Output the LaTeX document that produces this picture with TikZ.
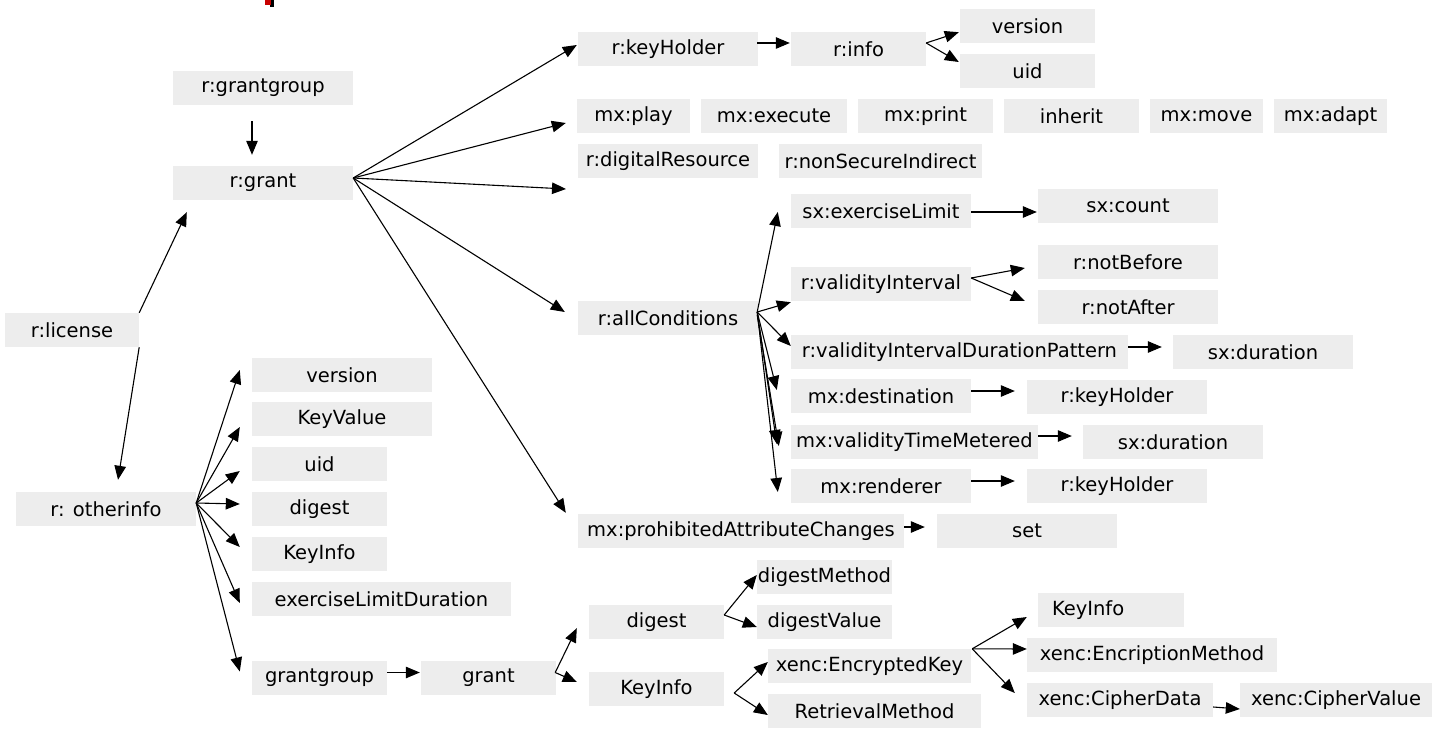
\documentclass[tikz,border=0pt]{standalone}
\usepackage{fontspec}
\setmainfont{DejaVu Sans}
\usetikzlibrary{arrows.meta}
\definecolor{boxgray}{RGB}{237,237,237}
\definecolor{clipred}{RGB}{200,0,0}
\begin{document}
\begin{tikzpicture}[x=1pt,y=-1pt,
  box/.style={fill=boxgray,inner sep=0pt,minimum height=34pt,font=\fontsize{19.5pt}{23pt}\selectfont,text=black},
  arr/.style={-{Triangle[length=14pt,width=11.5pt]},line width=1.1pt,black}]
\useasboundingbox (0,0) rectangle (1438,730);
% small clipped mark at top
\fill[black] (270,0) rectangle (274,7);
\fill[clipred] (265,0) rectangle (271,5);
% nodes
\node[box,minimum width=180pt] (gtop) at (263,88) {r:grantgroup};
\node[box,minimum width=180pt] (rgrant) at (263,183) {r:grant};
\node[box,minimum width=134pt] (license) at (72,330) {r:license};
\node[box,minimum width=180pt] (otherinfo) at (106,509) {r: otherinfo};
\node[box,minimum width=180pt] (keyholder) at (668,49) {r:keyHolder};
\node[box,minimum width=135pt] (info) at (858.5,49) {r:info};
\node[box,minimum width=135pt] (iversion) at (1027.5,26) {version};
\node[box,minimum width=135pt] (iuid) at (1027.5,71) {uid};
\node[box,minimum width=113pt] (play) at (633.5,116) {mx:play};
\node[box,minimum width=146pt] (execute) at (774,116) {mx:execute};
\node[box,minimum width=135pt] (print) at (925.5,116) {mx:print};
\node[box,minimum width=135pt] (inherit) at (1071.5,116) {inherit};
\node[box,minimum width=113pt] (move) at (1206.5,116) {mx:move};
\node[box,minimum width=113pt] (adapt) at (1330.5,116) {mx:adapt};
\node[box,minimum width=180pt] (digres) at (668,161) {r:digitalResource};
\node[box,minimum width=203pt] (nonsec) at (880.5,161) {r:nonSecureIndirect};
\node[box,minimum width=180pt] (allcond) at (668,318) {r:allConditions};
\node[box,minimum width=180pt] (exlimit) at (881,211) {sx:exerciseLimit};
\node[box,minimum width=180pt] (count) at (1128,206) {sx:count};
\node[box,minimum width=180pt] (valint) at (881,284) {r:validityInterval};
\node[box,minimum width=180pt] (notbefore) at (1128,262) {r:notBefore};
\node[box,minimum width=180pt] (notafter) at (1128,307) {r:notAfter};
\node[box,minimum width=337pt] (vidp) at (959.5,352) {r:validityIntervalDurationPattern};
\node[box,minimum width=180pt] (dur1) at (1263,352) {sx:duration};
\node[box,minimum width=180pt] (dest) at (881,396) {mx:destination};
\node[box,minimum width=180pt] (kh1) at (1117,397) {r:keyHolder};
\node[box,minimum width=247pt] (vtm) at (914.5,442) {mx:validityTimeMetered};
\node[box,minimum width=180pt] (dur2) at (1173,442) {sx:duration};
\node[box,minimum width=180pt] (rend) at (881,486) {mx:renderer};
\node[box,minimum width=180pt] (kh2) at (1117,486) {r:keyHolder};
\node[box,minimum width=326pt] (pac) at (741,531) {mx:prohibitedAttributeChanges};
\node[box,minimum width=180pt] (set) at (1027,531) {set};
\node[box,minimum width=180pt] (oversion) at (342,375) {version};
\node[box,minimum width=180pt] (okeyvalue) at (342,419) {KeyValue};
\node[box,minimum width=135pt] (ouid) at (319.5,464) {uid};
\node[box,minimum width=135pt] (odigest) at (319.5,509) {digest};
\node[box,minimum width=135pt] (okeyinfo) at (319.5,554) {KeyInfo};
\node[box,minimum width=259pt] (oeld) at (381.5,599) {exerciseLimitDuration};
\node[box,minimum width=135pt] (ogg) at (319.5,677.5) {grantgroup};
\node[box,minimum width=135pt] (ogrant) at (488.5,677.5) {grant};
\node[box,minimum width=135pt] (gdigest) at (656.5,622) {digest};
\node[box,minimum width=135pt] (gkeyinfo) at (656.5,689) {KeyInfo};
\node[box,minimum width=135pt] (dmethod) at (824.5,577) {digestMethod};
\node[box,minimum width=135pt] (dvalue) at (824.5,622) {digestValue};
\node[box,minimum width=203pt] (enckey) at (869.5,666) {xenc:EncryptedKey};
\node[box,minimum width=213pt] (retr) at (874.5,711) {RetrievalMethod};
\node[box,minimum width=146pt,text width=118pt,inner xsep=14pt,align=left] (ki2) at (1111,610) {KeyInfo};
\node[box,minimum width=250pt] (encmeth) at (1152,655) {xenc:EncriptionMethod};
\node[box,minimum width=186pt] (cdata) at (1120,700) {xenc:CipherData};
\node[box,minimum width=192pt] (cvalue) at (1336,700) {xenc:CipherValue};
\coordinate (freeend) at (566,189);
% connectors
\draw[arr] ([shift={(-11,16)}]gtop.south) -- ([shift={(-11,-11)}]rgrant.north);
\draw[arr] (license.north east) -- ([shift={(14,12)}]rgrant.south west);
\draw[arr] (license.south east) -- ([shift={(12,-12)}]otherinfo.north);
\draw[arr] ([shift={(0,-5)}]rgrant.east) -- ([shift={(-1,-4)}]keyholder.west);
\draw[arr] ([shift={(0,-5)}]rgrant.east) -- ([shift={(-11,7)}]play.west);
\draw[arr] ([shift={(0,-5)}]rgrant.east) -- (freeend);
\draw[arr] ([shift={(0,-5)}]rgrant.east) -- ([shift={(-13,-6)}]allcond.west);
\draw[arr] ([shift={(0,-5)}]rgrant.east) -- ([shift={(-12,-1)}]pac.north west);
\draw[arr] ([shift={(-1,-6)}]keyholder.east) -- ([shift={(-1,-6)}]info.west);
\draw[arr] ([shift={(0,-6)}]info.east) -- ([shift={(-1,-11)}]iversion.south west);
\draw[arr] ([shift={(0,-6)}]info.east) -- ([shift={(-1,-9)}]iuid.west);
\draw[arr] ([shift={(-1,-6)}]allcond.east) -- ([shift={(-13,1)}]exlimit.west);
\draw[arr] ([shift={(-1,-6)}]allcond.east) -- ([shift={(0,1)}]valint.south west);
\draw[arr] ([shift={(-1,-6)}]allcond.east) -- ([shift={(0,-6)}]vidp.west);
\draw[arr] ([shift={(-1,-6)}]allcond.east) -- ([shift={(-14,-6)}]dest.west);
\draw[arr] ([shift={(-1,-6)}]allcond.east) -- ([shift={(-14,2)}]vtm.west);
\draw[arr] ([shift={(-1,-3)}]allcond.east) -- ([shift={(-12,4)}]vtm.west);
\draw[arr] ([shift={(-1,-6)}]allcond.east) -- ([shift={(-13,6)}]rend.west);
\draw[arr] ([shift={(0,1)}]exlimit.east) -- ([shift={(-1,6)}]count.west);
\draw[arr] ([shift={(0,-6)}]valint.east) -- ([shift={(-13,6)}]notbefore.west);
\draw[arr] ([shift={(0,-6)}]valint.east) -- ([shift={(-13,-6)}]notafter.west);
\draw[arr] ([shift={(0,-5)}]vidp.east) -- ([shift={(-11,-5)}]dur1.west);
\draw[arr] ([shift={(0,-5)}]dest.east) -- ([shift={(-12,-6)}]kh1.west);
\draw[arr] ([shift={(0,-6)}]vtm.east) -- ([shift={(-11,-6)}]dur2.west);
\draw[arr] ([shift={(0,-5)}]rend.east) -- ([shift={(-12,-5)}]kh2.west);
\draw[arr] ([shift={(0,-4)}]pac.east) -- ([shift={(-12,-4)}]set.west);
\draw[arr] ([shift={(0,-6)}]otherinfo.east) -- ([shift={(-12,-5)}]oversion.west);
\draw[arr] ([shift={(0,-6)}]otherinfo.east) -- ([shift={(-12,8)}]okeyvalue.west);
\draw[arr] ([shift={(0,-6)}]otherinfo.east) -- ([shift={(-12,7)}]ouid.west);
\draw[arr] ([shift={(0,-6)}]otherinfo.east) -- ([shift={(-12,-5)}]odigest.west);
\draw[arr] ([shift={(0,-6)}]otherinfo.east) -- ([shift={(-12,-7)}]okeyinfo.west);
\draw[arr] ([shift={(0,-6)}]otherinfo.east) -- ([shift={(-12,4)}]oeld.west);
\draw[arr] ([shift={(0,-6)}]otherinfo.east) -- ([shift={(-12,-6)}]ogg.west);
\draw[arr] ([shift={(0,-5)}]ogg.east) -- ([shift={(-1,-5)}]ogrant.west);
\draw[arr] ([shift={(-1,-5)}]ogrant.east) -- ([shift={(-12,-11)}]gdigest.south west);
\draw[arr] ([shift={(-1,-5)}]ogrant.east) -- ([shift={(-12,-7)}]gkeyinfo.west);
\draw[arr] ([shift={(0,-7)}]gdigest.east) -- ([shift={(0,-2)}]dmethod.west);
\draw[arr] ([shift={(0,-7)}]gdigest.east) -- ([shift={(0,5)}]dvalue.west);
\draw[arr] ([shift={(10,4)}]gkeyinfo.east) -- ([shift={(0,-4)}]enckey.west);
\draw[arr] ([shift={(10,4)}]gkeyinfo.east) -- ([shift={(0,4)}]retr.west);
\draw[arr] ([shift={(1,0)}]enckey.north east) -- ([shift={(-11,7)}]ki2.west);
\draw[arr] ([shift={(1,0)}]enckey.north east) -- ([shift={(0,-6)}]encmeth.west);
\draw[arr] ([shift={(1,0)}]enckey.north east) -- ([shift={(-12,-7)}]cdata.west);
\draw[arr] ([shift={(0,7)}]cdata.east) -- ([shift={(0,9)}]cvalue.west);
\end{tikzpicture}
\end{document}
